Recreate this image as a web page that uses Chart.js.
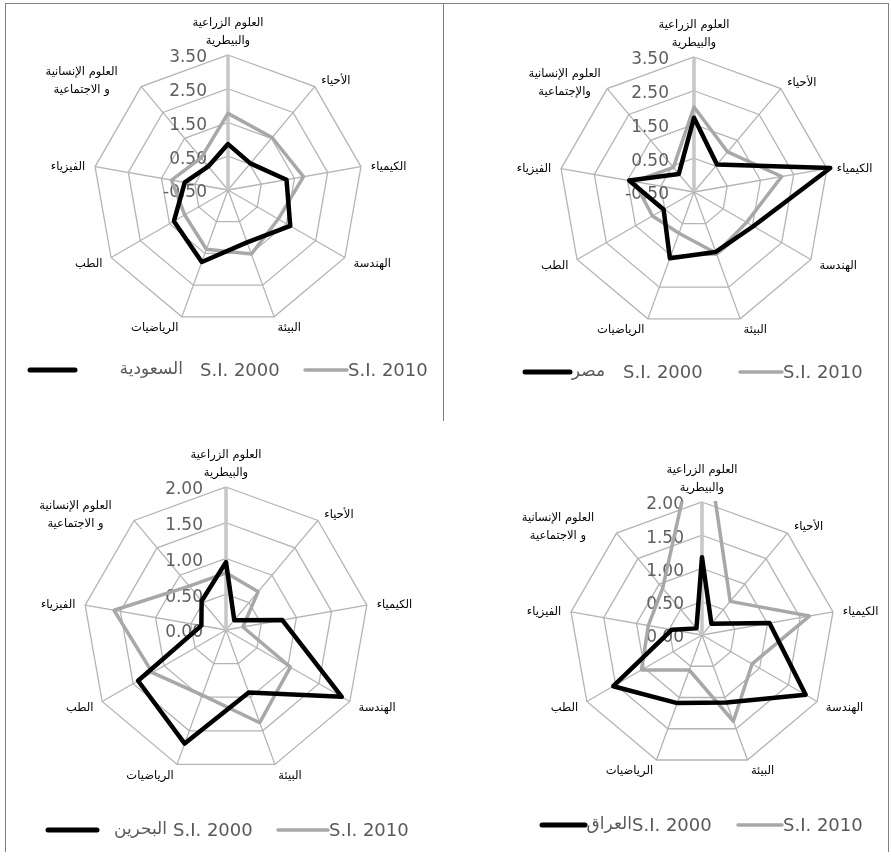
<!DOCTYPE html>
<html>
<head>
<meta charset="utf-8">
<script src="https://cdn.jsdelivr.net/npm/chart.js@4.4.0/dist/chart.umd.min.js"></script>
<style>
html, body { margin: 0; padding: 0; background: #fff; }
#page { position: relative; width: 891px; height: 857px; overflow: hidden; background: #fff; }
#page canvas { position: absolute; }
.frame { position: absolute; border: 0 solid #808080; }
</style>
</head>
<body>
<div id="page">
  <div class="frame" style="left:5px;top:3px;width:882px;height:848px;border-width:1px 1px 0 1px"></div>
  <div class="frame" style="left:443px;top:3px;width:0;height:418px;border-left-width:1px"></div>
  <canvas id="c1" width="445" height="425" style="left:0;top:0"></canvas>
  <canvas id="c2" width="446" height="425" style="left:445px;top:0"></canvas>
  <canvas id="c3" width="445" height="432" style="left:0;top:425px"></canvas>
  <canvas id="c4" width="446" height="432" style="left:445px;top:425px"></canvas>
</div>
<script>
// categories, clockwise from the top
const categories = [
    ['العلوم الزراعية', 'والبيطرية'], 'الأحياء', 'الكيمياء', 'الهندسة',
    'البيئة', 'الرياضيات', 'الطب', 'الفيزياء', ['العلوم الإنسانية', 'و الاجتماعية']
];
const categoriesEgypt = categories.slice(0, 8).concat([['العلوم الإنسانية', 'والإجتماعية']]);
const seriesNames = ['S.I. 2000', 'S.I. 2010'];
const countries = ['السعودية', 'مصر', 'البحرين', 'العراق'];

const ticksTop = [-0.5, 0.5, 1.5, 2.5, 3.5];
const tickLabelsTop = ['-0.50', '0.50', '1.50', '2.50', '3.50'];
const ticksBottom = [0, 0.5, 1, 1.5, 2];
const tickLabelsBottom = ['0.00', '0.50', '1.00', '1.50', '2.00'];

const saudi2000 = [0.86, 0.53, 1.26, 1.63, 1.15, 1.77, 1.35, 0.80, 0.41];
const saudi2010 = [1.77, 1.53, 1.77, 1.22, 1.52, 1.37, 0.98, 1.20, 0.74];
const egypt2000 = [1.70, 0.56, 3.60, 1.53, 1.39, 1.59, 0.54, 1.45, 0.20];
const egypt2010 = [2.02, 1.05, 2.14, 1.30, 1.43, 0.80, 0.92, 1.30, 0.45];
const bahrain2000 = [0.95, 0.18, 0.80, 1.87, 0.93, 1.69, 1.42, 0.35, 0.53];
const bahrain2010 = [0.80, 0.70, 0.24, 1.04, 1.38, 0.97, 1.19, 1.59, 0.80];
const iraq2000 = [1.17, 0.22, 1.03, 1.80, 1.08, 1.09, 1.54, 0.46, 0.13];
const iraq2010 = [3.37, 0.66, 1.64, 0.87, 1.38, 0.56, 1.05, 0.82, 0.92];

const panels = [
    { id: 'c1', labels: categories, country: countries[0], s2000: saudi2000, s2010: saudi2010,
      ticks: ticksTop, tickLabels: tickLabelsTop, cx: 228, cy: 190, R: 135, tickDx: -21, humanDx: -17,
      legend: { y: 370, black: [30, 75], nameRight: 183, s2000: 200, gray: [305, 347] } },
    { id: 'c2', labels: categoriesEgypt, country: countries[1], s2000: egypt2000, s2010: egypt2010,
      ticks: ticksTop, tickLabels: tickLabelsTop, cx: 249, cy: 192, R: 135, tickDx: -25, humanDx: 0,
      legend: { y: 372, black: [80, 125], nameRight: 160, s2000: 178, gray: [295, 337] } },
    { id: 'c3', labels: categories, country: countries[2], s2000: bahrain2000, s2010: bahrain2010,
      ticks: ticksBottom, tickLabels: tickLabelsBottom, cx: 226, cy: 205, R: 143, tickDx: -23, humanDx: -16,
      legend: { y: 405, black: [48, 97], nameRight: 167, s2000: 173, gray: [278, 328] } },
    { id: 'c4', labels: categories, country: countries[3], s2000: iraq2000, s2010: iraq2010,
      ticks: ticksBottom, tickLabels: tickLabelsBottom, cx: 257, cy: 210, R: 133, tickDx: -18, humanDx: -16,
      legend: { y: 400, black: [97, 140], nameRight: 187, s2000: 187, gray: [293, 337] } }
];

const radarDecor = {
    id: 'radarDecor',
    beforeDatasetsDraw(chart, args, o) {
        const p = o.panel;
        const r = chart.scales.r;
        const ctx = chart.ctx;
        ctx.save();
        ctx.font = '17px "DejaVu Sans"';
        ctx.fillStyle = '#5f5f5f';
        ctx.textAlign = 'right';
        ctx.textBaseline = 'middle';
        p.ticks.forEach((v, k) => {
            const d = r.getDistanceFromCenterForValue(v);
            ctx.fillText(p.tickLabels[k], r.xCenter + p.tickDx, r.yCenter - d + 3);
        });
        ctx.restore();
        // lines that run past the top of the plot area are cut off there
        ctx.save();
        ctx.beginPath();
        ctx.rect(0, r.yCenter - r.drawingArea - 1, chart.width, chart.height);
        ctx.clip();
    },
    afterDatasetsDraw(chart) {
        chart.ctx.restore();
    },
    afterDraw(chart, args, o) {
        const p = o.panel;
        const r = chart.scales.r;
        const ctx = chart.ctx;
        const n = p.labels.length;
        ctx.save();
        ctx.font = '11.5px "DejaVu Sans"';
        ctx.fillStyle = '#000';
        ctx.textBaseline = 'middle';
        p.labels.forEach((lab, i) => {
            const deg = i * 360 / n;
            const lines = Array.isArray(lab) ? lab : [lab];
            const lh = 18;
            const w = Math.max(...lines.map(t => ctx.measureText(t).width));
            let pos, left, top;
            if (deg === 0) {
                pos = r.getPointPosition(i, r.drawingArea + 5);
                left = pos.x - w / 2;
                top = pos.y - lines.length * lh;
            } else {
                pos = r.getPointPosition(i, r.drawingArea + 10);
                left = deg < 180 ? pos.x : pos.x - w;
                top = pos.y - lines.length * lh / 2 + 2;
                if (i === n - 1) left += p.humanDx;
            }
            ctx.textAlign = 'center';
            lines.forEach((t, k) => ctx.fillText(t, left + w / 2, top + lh * k + lh / 2));
        });
        ctx.restore();

        // legend
        const L = p.legend;
        const ds = chart.data.datasets;
        ctx.save();
        ctx.lineCap = 'round';
        ctx.strokeStyle = ds[0].borderColor;
        ctx.lineWidth = 5;
        ctx.beginPath();
        ctx.moveTo(L.black[0], L.y);
        ctx.lineTo(L.black[1], L.y);
        ctx.stroke();
        ctx.strokeStyle = ds[1].borderColor;
        ctx.lineWidth = 3.5;
        ctx.beginPath();
        ctx.moveTo(L.gray[0], L.y);
        ctx.lineTo(L.gray[1], L.y);
        ctx.stroke();
        ctx.fillStyle = '#595959';
        ctx.textBaseline = 'middle';
        ctx.font = '17px "DejaVu Sans"';
        ctx.textAlign = 'right';
        ctx.fillText(p.country, L.nameRight, L.y);
        ctx.textAlign = 'left';
        ctx.font = '18px "DejaVu Sans"';
        ctx.fillText(ds[0].label, L.s2000, L.y + 1);
        ctx.fillText(ds[1].label, L.gray[1] + 1, L.y + 1);
        ctx.restore();
    }
};

panels.forEach(p => {
    const canvas = document.getElementById(p.id);
    new Chart(canvas.getContext('2d'), {
        type: 'radar',
        data: {
            labels: p.labels,
            datasets: [
                { label: seriesNames[0], data: p.s2000, borderColor: '#000000', borderWidth: 4.5,
                  pointRadius: 0, fill: false, borderJoinStyle: 'round' },
                { label: seriesNames[1], data: p.s2010, borderColor: '#a8a8a8', borderWidth: 3.5,
                  pointRadius: 0, fill: false, borderJoinStyle: 'round' }
            ]
        },
        options: {
            responsive: false,
            animation: false,
            devicePixelRatio: 1,
            layout: {
                padding: {
                    left: p.cx - p.R, top: p.cy - p.R,
                    right: canvas.width - p.cx - p.R, bottom: canvas.height - p.cy - p.R
                }
            },
            scales: {
                r: {
                    min: p.ticks[0],
                    max: p.ticks[p.ticks.length - 1],
                    ticks: { display: false, stepSize: p.ticks[1] - p.ticks[0] },
                    pointLabels: { display: false },
                    grid: { color: '#b4b4b4', lineWidth: 1.3 },
                    angleLines: {
                        color: c => c.index === 0 ? '#c6c6c6' : '#b4b4b4',
                        lineWidth: c => c.index === 0 ? 3.5 : 1.3
                    }
                }
            },
            plugins: {
                legend: { display: false },
                tooltip: { enabled: false },
                radarDecor: { panel: p }
            }
        },
        plugins: [radarDecor]
    });
});
</script>
</body>
</html>
